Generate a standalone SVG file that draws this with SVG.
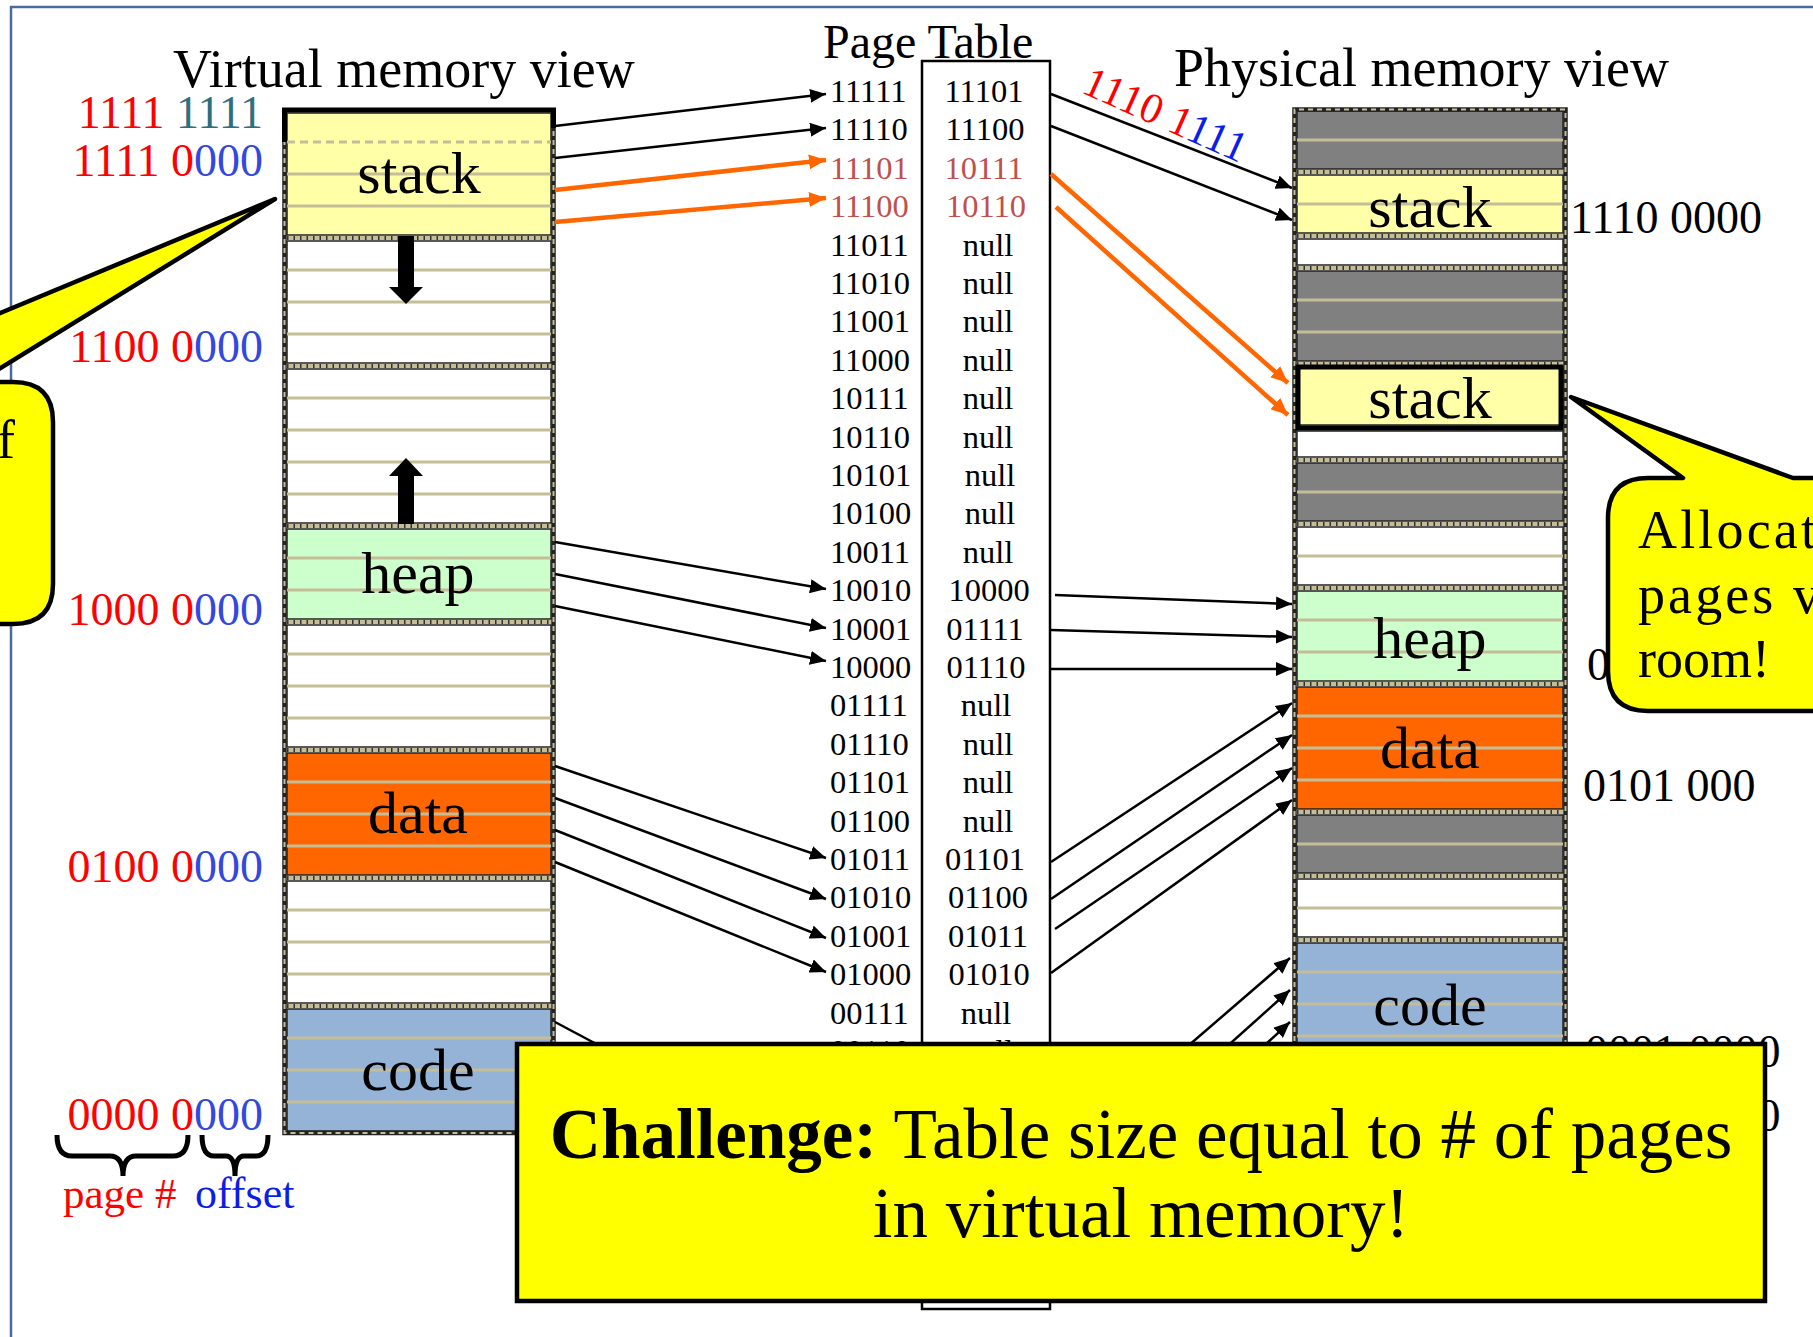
<svg xmlns="http://www.w3.org/2000/svg" width="1813" height="1337" viewBox="0 0 1813 1337">
<defs>
<style>
text{font-family:'Liberation Serif','Times New Roman',serif}
.hd{font-size:54px}
.seg{font-size:60px;text-anchor:middle}
.ad{font-size:46px}
.tb{font-size:32.5px}
.tv{text-anchor:middle}
.rd{fill:#ff0000}
.bl{fill:#3348dd}
.bb{fill:#0a1ee8}
.tl{fill:#2e6e7e}
.tr{fill:#c0504d}
.sep{stroke:#c4bd97;stroke-width:3}
.sepd{stroke:#c4bd97;stroke-width:3;stroke-dasharray:8 5}
.grp{stroke:#222;stroke-width:1.5}
.side{stroke:#222;stroke-width:4.5;fill:none}
.sided{stroke:#c4bd97;stroke-width:2;stroke-dasharray:5 4;fill:none}
.band{stroke:#c4bd97;stroke-width:4}
.bandd{stroke:#333;stroke-width:4;stroke-dasharray:1.5 5}
.k{stroke:#000;stroke-width:2.5;fill:none;marker-end:url(#ak)}
.o{stroke:#ff6600;stroke-width:4.5;fill:none;marker-end:url(#ao)}
.callout{fill:#ffff00;stroke:#000;stroke-width:4.5;stroke-linejoin:round}
</style>
<marker id="ak" viewBox="0 0 16 14" markerWidth="16" markerHeight="14" refX="16" refY="7" orient="auto" markerUnits="userSpaceOnUse"><path d="M0,0 L16,7 L0,14 z" fill="#000"/></marker>
<marker id="ao" viewBox="0 0 16 14" markerWidth="17" markerHeight="15" refX="16" refY="7" orient="auto" markerUnits="userSpaceOnUse"><path d="M0,0 L16,7 L0,14 z" fill="#ff6600"/></marker>
</defs>
<rect width="1813" height="1337" fill="#fff"/>
<path d="M11,1337 V7 H1813" stroke="#4a6b9c" stroke-width="2.5" fill="none"/>

<g id="virtual-title"><text class="hd" x="173" y="87">Virtual memory view</text></g>
<g id="page-table-title"><text x="823" y="58" style="font-size:48px">Page Table</text></g>
<g id="physical-title"><text class="hd" x="1174" y="86">Physical memory view</text></g>

<g id="virtual-memory">
<rect x="287" y="113" width="264" height="122" fill="#ffffa8" class="grp"/>
<rect x="287" y="241" width="264" height="122" fill="#fff" class="grp"/>
<rect x="287" y="369" width="264" height="154" fill="#fff" class="grp"/>
<rect x="287" y="529" width="264" height="90" fill="#ccffcc" class="grp"/>
<rect x="287" y="625" width="264" height="122" fill="#fff" class="grp"/>
<rect x="287" y="753" width="264" height="122" fill="#ff6600" class="grp"/>
<rect x="287" y="881" width="264" height="122" fill="#fff" class="grp"/>
<rect x="287" y="1009" width="264" height="122" fill="#95b3d7" class="grp"/>
<g>
<line x1="287" y1="142" x2="551" y2="142" class="sepd"/>
<path d="M287,174 H551 M287,206 H551 M287,270 H551 M287,302 H551 M287,334 H551 M287,398 H551 M287,430 H551 M287,462 H551 M287,494 H551 M287,558 H551 M287,590 H551 M287,654 H551 M287,686 H551 M287,718 H551 M287,782 H551 M287,814 H551 M287,846 H551 M287,910 H551 M287,942 H551 M287,974 H551 M287,1038 H551 M287,1070 H551 M287,1102 H551" class="sep"/>
</g>
<g>
<path d="M287,238 H551 M287,366 H551 M287,526 H551 M287,622 H551 M287,750 H551 M287,878 H551 M287,1006 H551" class="band"/>
<path d="M287,238 H551 M287,366 H551 M287,526 H551 M287,622 H551 M287,750 H551 M287,878 H551 M287,1006 H551" class="bandd"/>
<path d="M284.5,110 V1133 H553.5 V110" class="side"/>
<path d="M284.5,140 V1133 H553.5 V128" class="sided"/>
<path d="M284.5,142 V110 H553.5 V128" stroke="#000" stroke-width="5" fill="none"/>
</g>
<text class="seg" x="419" y="193">stack</text>
<text class="seg" x="418" y="593">heap</text>
<text class="seg" x="418" y="833">data</text>
<text class="seg" x="418" y="1090">code</text>
<polygon points="398,236 414,236 414,287 423,287 406,304 389,287 398,287" fill="#000"/>
<polygon points="406,458 423,476 414,476 414,524 398,524 398,476 389,476" fill="#000"/>
</g>

<g id="virtual-addresses">
<text class="ad" x="263" y="128" text-anchor="end"><tspan class="rd">1111 </tspan><tspan class="tl">1111</tspan></text>
<text class="ad" x="263" y="176" text-anchor="end"><tspan class="rd">1111 0</tspan><tspan class="bl">000</tspan></text>
<text class="ad" x="263" y="362" text-anchor="end"><tspan class="rd">1100 0</tspan><tspan class="bl">000</tspan></text>
<text class="ad" x="263" y="625" text-anchor="end"><tspan class="rd">1000 0</tspan><tspan class="bl">000</tspan></text>
<text class="ad" x="263" y="882" text-anchor="end"><tspan class="rd">0100 0</tspan><tspan class="bl">000</tspan></text>
<text class="ad" x="263" y="1130" text-anchor="end"><tspan class="rd">0000 0</tspan><tspan class="bl">000</tspan></text>
<path d="M57,1135 Q57,1156 72,1156 L110,1156 Q123,1156 123,1176 Q123,1156 136,1156 L173,1156 Q188,1156 188,1135" stroke="#000" stroke-width="5" fill="none"/>
<path d="M202,1135 Q202,1156 214,1156 L226,1156 Q235,1156 235,1176 Q235,1156 244,1156 L256,1156 Q268,1156 268,1135" stroke="#000" stroke-width="5" fill="none"/>
<text x="63" y="1208" style="font-size:43px" class="rd">page #</text>
<text x="195" y="1208" style="font-size:44px" class="bb">offset</text>
</g>

<g id="page-table">
<rect x="922" y="61" width="128" height="1248" fill="#fff" stroke="#000" stroke-width="2.5"/>
<g class="tb">
<text x="830" y="102">11111</text><text class="tv" x="984" y="102">11101</text>
<text x="830" y="140.4">11110</text><text class="tv" x="985" y="140.4">11100</text>
<text class="tr" x="830" y="178.8">11101</text><text class="tv tr" x="984" y="178.8">10111</text>
<text class="tr" x="830" y="217.2">11100</text><text class="tv tr" x="986" y="217.2">10110</text>
<text x="830" y="255.6">11011</text><text class="tv" x="988" y="255.6">null</text>
<text x="830" y="294">11010</text><text class="tv" x="988" y="294">null</text>
<text x="830" y="332.4">11001</text><text class="tv" x="988" y="332.4">null</text>
<text x="830" y="370.8">11000</text><text class="tv" x="988" y="370.8">null</text>
<text x="830" y="409.2">10111</text><text class="tv" x="988" y="409.2">null</text>
<text x="830" y="447.6">10110</text><text class="tv" x="988" y="447.6">null</text>
<text x="830" y="486">10101</text><text class="tv" x="990" y="486">null</text>
<text x="830" y="524.4">10100</text><text class="tv" x="990" y="524.4">null</text>
<text x="830" y="562.8">10011</text><text class="tv" x="988" y="562.8">null</text>
<text x="830" y="601.2">10010</text><text class="tv" x="989" y="601.2">10000</text>
<text x="830" y="639.6">10001</text><text class="tv" x="985" y="639.6">01111</text>
<text x="830" y="678">10000</text><text class="tv" x="986" y="678">01110</text>
<text x="830" y="716.4">01111</text><text class="tv" x="986" y="716.4">null</text>
<text x="830" y="754.8">01110</text><text class="tv" x="988" y="754.8">null</text>
<text x="830" y="793.2">01101</text><text class="tv" x="988" y="793.2">null</text>
<text x="830" y="831.6">01100</text><text class="tv" x="988" y="831.6">null</text>
<text x="830" y="870">01011</text><text class="tv" x="985" y="870">01101</text>
<text x="830" y="908.4">01010</text><text class="tv" x="988" y="908.4">01100</text>
<text x="830" y="946.8">01001</text><text class="tv" x="988" y="946.8">01011</text>
<text x="830" y="985.2">01000</text><text class="tv" x="989" y="985.2">01010</text>
<text x="830" y="1023.6">00111</text><text class="tv" x="986" y="1023.6">null</text>
<text x="830" y="1062">00110</text><text class="tv" x="988" y="1062">null</text>
</g>
</g>

<g id="physical-memory">
<rect x="1297" y="111" width="266" height="58" fill="#808080" class="grp"/>
<rect x="1297" y="175" width="266" height="58" fill="#ffffa8" class="grp"/>
<rect x="1297" y="239" width="266" height="26" fill="#fff" class="grp"/>
<rect x="1297" y="271" width="266" height="90" fill="#808080" class="grp"/>
<rect x="1297" y="367" width="266" height="58" fill="#ffffa8" class="grp"/>
<rect x="1297" y="431" width="266" height="26" fill="#fff" class="grp"/>
<rect x="1297" y="463" width="266" height="58" fill="#808080" class="grp"/>
<rect x="1297" y="527" width="266" height="58" fill="#fff" class="grp"/>
<rect x="1297" y="591" width="266" height="90" fill="#ccffcc" class="grp"/>
<rect x="1297" y="687" width="266" height="122" fill="#ff6600" class="grp"/>
<rect x="1297" y="815" width="266" height="58" fill="#808080" class="grp"/>
<rect x="1297" y="879" width="266" height="58" fill="#fff" class="grp"/>
<rect x="1297" y="943" width="266" height="122" fill="#95b3d7" class="grp"/>
<path d="M1297,140 H1563 M1297,204 H1563 M1297,300 H1563 M1297,332 H1563 M1297,492 H1563 M1297,556 H1563 M1297,620 H1563 M1297,652 H1563 M1297,716 H1563 M1297,748 H1563 M1297,780 H1563 M1297,844 H1563 M1297,908 H1563 M1297,972 H1563 M1297,1004 H1563 M1297,1036 H1563" class="sep"/>
<path d="M1297,172 H1563 M1297,236 H1563 M1297,268 H1563 M1297,364 H1563 M1297,428 H1563 M1297,460 H1563 M1297,524 H1563 M1297,588 H1563 M1297,684 H1563 M1297,812 H1563 M1297,876 H1563 M1297,940 H1563" class="band"/>
<path d="M1297,172 H1563 M1297,236 H1563 M1297,268 H1563 M1297,364 H1563 M1297,428 H1563 M1297,460 H1563 M1297,524 H1563 M1297,588 H1563 M1297,684 H1563 M1297,812 H1563 M1297,876 H1563 M1297,940 H1563" class="bandd"/>
<path d="M1294.5,1068 V109.5 H1565.5 V1068" class="side"/>
<path d="M1294.5,1068 V109.5 H1565.5 V1068" class="sided"/>
<rect x="1298" y="367" width="263" height="61" fill="none" stroke="#000" stroke-width="5"/>
<text class="seg" x="1430" y="227">stack</text>
<text class="seg" x="1430" y="418">stack</text>
<text class="seg" x="1430" y="658">heap</text>
<text class="seg" x="1430" y="768">data</text>
<text class="seg" x="1430" y="1025">code</text>
</g>

<g id="physical-addresses">
<text class="ad" x="1570" y="233">1110 0000</text>
<text class="ad" x="1587" y="680">0</text>
<text class="ad" x="1583" y="801">0101 000</text>
<text class="ad" x="1585" y="1067">0001 0000</text>
<text class="ad" x="1585" y="1131">0000 0000</text>
<text class="ad" style="font-size:43px" transform="translate(1080,92) rotate(24)"><tspan class="rd">1110 1</tspan><tspan class="bb">111</tspan></text>
</g>

<g id="connectors">
<line class="k" x1="555" y1="126" x2="826" y2="94"/>
<line class="k" x1="555" y1="158" x2="826" y2="128"/>
<line class="o" x1="555" y1="190" x2="826" y2="160"/>
<line class="o" x1="555" y1="222" x2="826" y2="198"/>
<line class="k" x1="555" y1="542" x2="826" y2="589"/>
<line class="k" x1="555" y1="574" x2="826" y2="628"/>
<line class="k" x1="555" y1="606" x2="826" y2="661"/>
<line class="k" x1="555" y1="766" x2="826" y2="858"/>
<line class="k" x1="555" y1="798" x2="826" y2="899"/>
<line class="k" x1="555" y1="830" x2="826" y2="938"/>
<line class="k" x1="555" y1="862" x2="826" y2="972"/>
<line class="k" x1="555" y1="1022" x2="826" y2="1166"/>
<line class="k" x1="1051" y1="94" x2="1292" y2="188"/>
<line class="k" x1="1051" y1="126" x2="1292" y2="220"/>
<line class="o" x1="1051" y1="174" x2="1288" y2="383"/>
<line class="o" x1="1056" y1="207" x2="1288" y2="415"/>
<line class="k" x1="1055" y1="595" x2="1292" y2="604"/>
<line class="k" x1="1051" y1="630" x2="1292" y2="637"/>
<line class="k" x1="1051" y1="669" x2="1292" y2="669"/>
<line class="k" x1="1051" y1="862" x2="1292" y2="703"/>
<line class="k" x1="1051" y1="899" x2="1292" y2="735"/>
<line class="k" x1="1055" y1="929" x2="1292" y2="768"/>
<line class="k" x1="1051" y1="973" x2="1292" y2="800"/>
<line class="k" x1="1050" y1="1165" x2="1290" y2="958"/>
<line class="k" x1="1050" y1="1205" x2="1290" y2="990"/>
<line class="k" x1="1050" y1="1242" x2="1290" y2="1022"/>
</g>

<g id="callout-left">
<path class="callout" d="M-400,382 L-166,382 L275,199 L-22,382 L13,382 Q53,382 53,422 L53,584 Q53,624 13,624 L-400,624 Z"/>
<text x="-3" y="458" style="font-size:54px">f</text>
</g>

<g id="callout-right">
<path class="callout" d="M1900,478 L1793,478 L1571,397 L1683,478 L1648,478 Q1608,478 1608,518 L1608,671 Q1608,711 1648,711 L1900,711 Z"/>
<text x="1638" y="548" style="font-size:54px" textLength="178" lengthAdjust="spacing">Allocat</text>
<text x="1638" y="613" style="font-size:54px" textLength="182" lengthAdjust="spacing">pages v</text>
<text x="1638" y="677" style="font-size:54px">room!</text>
</g>

<g id="challenge">
<rect x="517" y="1044" width="1248" height="257" fill="#ffff00" stroke="#000" stroke-width="4.5"/>
<text x="1141" y="1158" text-anchor="middle" style="font-size:71px"><tspan font-weight="bold">Challenge:</tspan> Table size equal to # of pages</text>
<text x="1141" y="1237" text-anchor="middle" style="font-size:71px">in virtual memory!</text>
</g>
</svg>
